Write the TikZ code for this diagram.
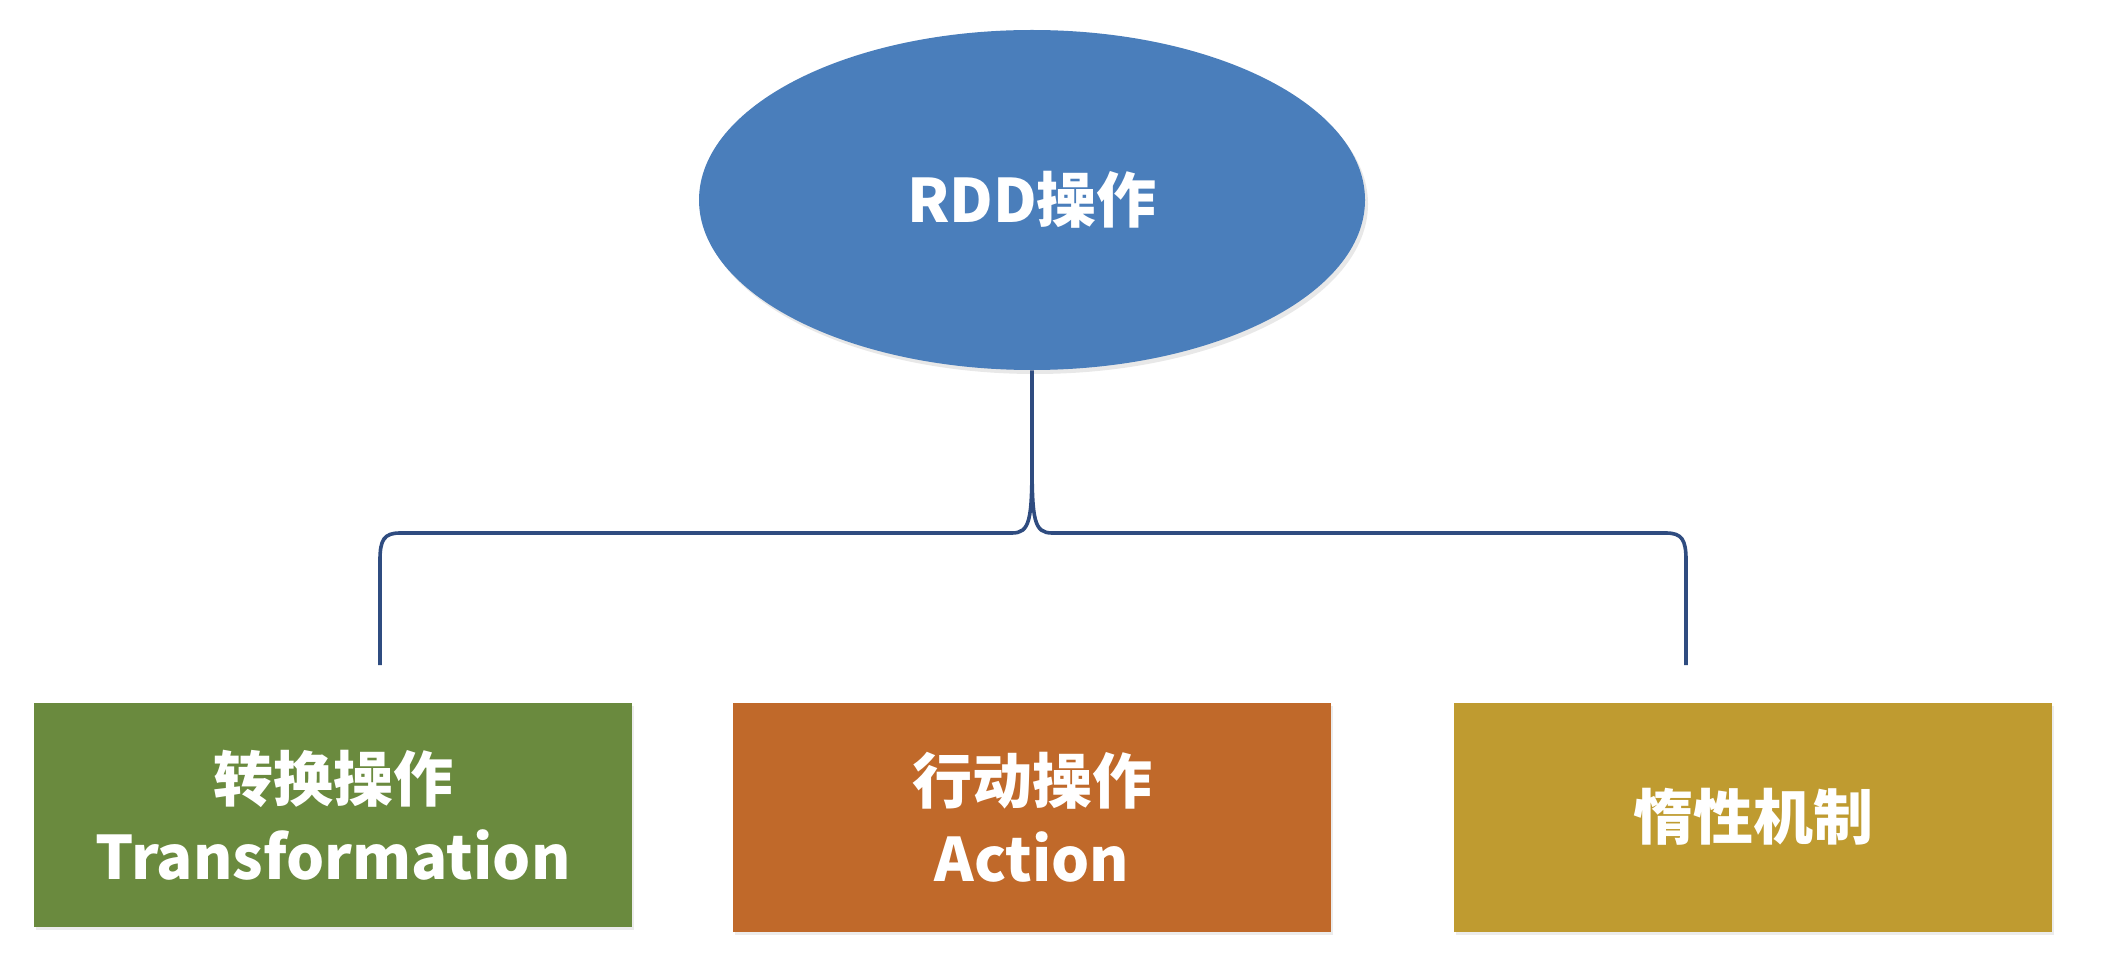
\documentclass[tikz,border=0pt]{standalone}
\usepackage{fontspec}
\setmainfont{Noto Sans CJK SC}
\usetikzlibrary{shapes.geometric,shadows}
\definecolor{ellblue}{HTML}{4A7EBB}
\definecolor{boxgreen}{HTML}{6A8A3E}
\definecolor{boxorange}{HTML}{C0692A}
\definecolor{boxgold}{HTML}{BF9B30}
\definecolor{bracecol}{HTML}{2F4C80}
\tikzset{
  lbl/.style={text=white, font=\bfseries\fontsize{30pt}{39pt}\selectfont, align=center},
  topell/.style={ellipse, fill=ellblue, minimum width=333pt, minimum height=170pt, inner sep=0pt, lbl,
     drop shadow={opacity=0.18, shadow xshift=1.5pt, shadow yshift=-2pt}},
  opbox/.style={rectangle, minimum width=299pt, minimum height=113pt, inner sep=0pt, lbl,
     drop shadow={opacity=0.15, shadow xshift=1pt, shadow yshift=-1.5pt}},
  brace/.style={draw=bracecol, line width=1.8pt}
}
\begin{document}
\begin{tikzpicture}[x=0.5pt,y=-0.5pt]
\useasboundingbox[fill=white] (0,0) rectangle (2108,962);
\node[topell] (ell) at (1032,200) {RDD操作};
\node[opbox, fill=boxgreen, minimum height=112pt] (tr) at (333,815) {转换操作\\Transformation};
\node[opbox, fill=boxorange, minimum height=114.5pt] (ac) at (1032,817) {行动操作\\Action};
\node[opbox, fill=boxgold, minimum height=114.5pt] (la) at (1753,817) {惰性机制};
\coordinate (mid) at (1032,460);
\coordinate (lend) at (380,665);
\coordinate (rend) at (1686,665);
\draw[brace] (ell.south) -- (mid)
  .. controls (1032,520) and (1030,533) .. (1012,533) -- (400,533)
  .. controls (384,533) and (380,540) .. (380,560) -- (lend);
\draw[brace] (mid)
  .. controls (1032,520) and (1034,533) .. (1052,533) -- (1666,533)
  .. controls (1682,533) and (1686,540) .. (1686,560) -- (rend);
\end{tikzpicture}
\end{document}
